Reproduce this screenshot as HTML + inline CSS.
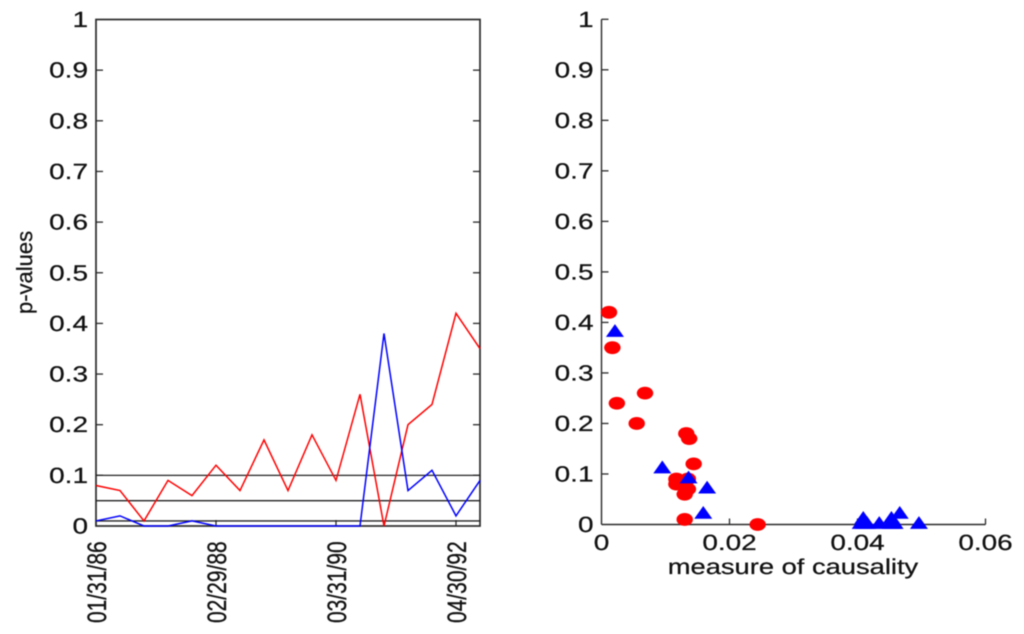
<!DOCTYPE html>
<html>
<head>
<meta charset="utf-8">
<title>p-values chart</title>
<style>
html,body{margin:0;padding:0;background:#fff;width:1024px;height:634px;overflow:hidden}
svg{display:block;filter:blur(0.4px)}
text{font-family:"Liberation Sans",Arial,sans-serif;fill:#111;stroke:#111;stroke-width:0.25px;text-rendering:geometricPrecision}
</style>
</head>
<body>
<svg id="chart" xmlns="http://www.w3.org/2000/svg" width="1024" height="634" viewBox="0 0 1024 634">
<g id="left"></g>
<g id="right"></g>
</svg>
<script>
const yTickValues = [0, 0.1, 0.2, 0.3, 0.4, 0.5, 0.6, 0.7, 0.8, 0.9, 1];
const yTickLabels = ["0", "0.1", "0.2", "0.3", "0.4", "0.5", "0.6", "0.7", "0.8", "0.9", "1"];
const dateTickIndex = [0, 5, 10, 15];
const dateTickLabels = ["01/31/86", "02/29/88", "03/31/90", "04/30/92"];
const redSeries = [0.08, 0.07, 0.01, 0.09, 0.06, 0.12, 0.07, 0.17, 0.07, 0.18, 0.09, 0.26, 0, 0.2, 0.24, 0.42, 0.35];
const blueSeries = [0.01, 0.02, 0, 0, 0.01, 0, 0, 0, 0, 0, 0, 0, 0.38, 0.07, 0.11, 0.02, 0.09];
const thresholds = [0.1, 0.05, 0.01];
const causalityTicks = [0, 0.02, 0.04, 0.06];
const causalityTickLabels = ["0", "0.02", "0.04", "0.06"];
const redCausality = [0.0117, 0.0133, 0.013, 0.0117, 0.013, 0.0144, 0.0135, 0.0137, 0.0133, 0.01325, 0.0135, 0.0068, 0.0244, 0.0055, 0.0024, 0.00117, 0.0017];
const redP = [0.08, 0.07, 0.01, 0.09, 0.06, 0.12, 0.07, 0.17, 0.07, 0.18, 0.09, 0.26, 0, 0.2, 0.24, 0.42, 0.35];
const blueCausality = [0.0409, 0.0466, 0.0405, 0.0412, 0.0453, 0.0415, 0.0434, 0.0452, 0.0455, 0.0458, 0.0496, 0.041, 0.0021, 0.0165, 0.0095, 0.0159, 0.0136];
const blueP = [0.01, 0.02, 0, 0, 0.01, 0, 0, 0, 0, 0, 0, 0, 0.38, 0.07, 0.11, 0.02, 0.09];

const NS = "http://www.w3.org/2000/svg";
const leftG = document.getElementById("left");
const rightG = document.getElementById("right");
const AXIS = "#2a2a2a";

function yScale(v) { return 526 - v * 506.5; }
function yScaleRight(v) { return 524.5 - v * 505.2; }
function xIndex(i) { return 96 + i * (384 / (redSeries.length - 1)); }
function xCause(v) { return 601.5 + v * 6400; }

function mk(parent, tag, attrs) {
  const el = document.createElementNS(NS, tag);
  for (const k in attrs) el.setAttribute(k, attrs[k]);
  parent.appendChild(el);
  return el;
}
function line(parent, x1, y1, x2, y2, w, color) {
  return mk(parent, "line", { x1: x1, y1: y1, x2: x2, y2: y2, stroke: color || AXIS, "stroke-width": w });
}
function label(parent, str, x, y, anchor, size, rot) {
  const t = mk(parent, "text", {
    transform: "translate(" + x + "," + y + ") scale(1.27,1)" + (rot ? " rotate(-90)" : ""),
    "text-anchor": anchor,
    "font-size": size
  });
  t.textContent = str;
  return t;
}

/* ---------- left panel ---------- */
const leftFrame = mk(leftG, "rect", { x: 96, y: yScale(1), width: 384, height: yScale(0) - yScale(1), fill: "none", stroke: AXIS, "stroke-width": 1.7 });



yTickValues.forEach(function (v, i) {
  const y = yScale(v);
  if (v > 0 && v < 1) {
    const a = line(leftG, 96, y, 103, y, 1.3);
    
    
    const b = line(leftG, 480, y, 473, y, 1.3);
    
    
  }
  const t = label(leftG, yTickLabels[i], 88, y + 7.5, "end", 22, false);
  
  
});

dateTickIndex.forEach(function (idx, i) {
  const x = xIndex(idx);
  const tk = line(leftG, x, 526, x, 520, 1.3);
  
  
  const t = label(leftG, dateTickLabels[i], x + 9.9, 541.3, "end", 21, true);
  
  
});

thresholds.forEach(function (v) {
  const l = line(leftG, 96, yScale(v), 480, yScale(v), 1.3, "#222");
  
  
});

function seriesPoints(arr) {
  return arr.map(function (v, i) { return xIndex(i) + "," + yScale(v); }).join(" ");
}
const redLine = mk(leftG, "polyline", { points: seriesPoints(redSeries), fill: "none", stroke: "#ff0000", "stroke-width": 1.5 });


const blueLine = mk(leftG, "polyline", { points: seriesPoints(blueSeries), fill: "none", stroke: "#0000ff", "stroke-width": 1.5 });



const yTitle = mk(leftG, "text", { transform: "translate(32,314) rotate(-90)", "text-anchor": "start", "font-size": 22 });
yTitle.textContent = "p-values";



/* ---------- right panel ---------- */
const rightY = line(rightG, 601.5, yScaleRight(1), 601.5, yScaleRight(0), 1.4);


const rightX = line(rightG, 601.5, yScaleRight(0), 985.5, yScaleRight(0), 1.4);



yTickValues.forEach(function (v, i) {
  const y = yScaleRight(v);
  if (v > 0) {
    const a = line(rightG, 601.5, y, 608.5, y, 1.3);
    
    
  }
  const t = label(rightG, yTickLabels[i], 593.5, y + 7.5, "end", 22, false);
  
  
});

causalityTicks.forEach(function (v, i) {
  const x = xCause(v);
  if (v > 0) {
    const tk = line(rightG, x, yScaleRight(0), x, yScaleRight(0) - 6, 1.3);
    
    
  }
  const t = label(rightG, causalityTickLabels[i], x, 550, "middle", 22, false);
  
  
});

const xTitle = label(rightG, "measure of causality", 793, 574, "middle", 21.5, false);



redCausality.forEach(function (c, i) {
  const e = mk(rightG, "ellipse", { cx: xCause(c), cy: yScaleRight(redP[i]), rx: 8.2, ry: 6.4, fill: "#ff0000" });
  
  
});
blueCausality.forEach(function (c, i) {
  const x = xCause(c);
  const y = yScaleRight(blueP[i]);
  const p = mk(rightG, "polygon", { points: (x - 9) + "," + (y + 4.4) + " " + x + "," + (y - 8.4) + " " + (x + 9) + "," + (y + 4.4), fill: "#0000ff" });
  
  
});
</script>
</body>
</html>
